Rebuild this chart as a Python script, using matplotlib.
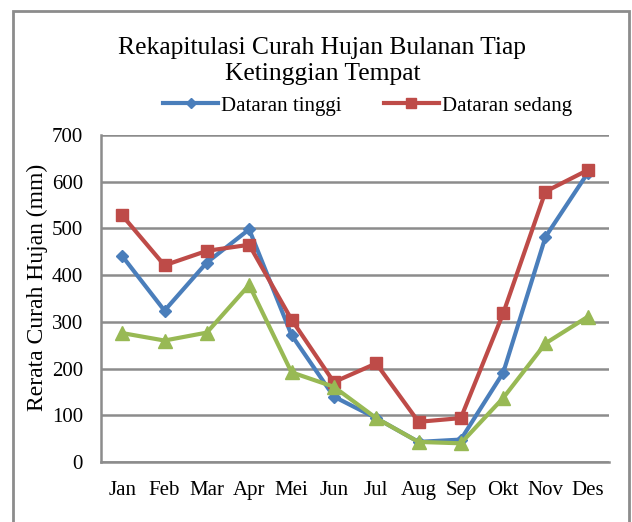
import matplotlib.pyplot as plt
import matplotlib.patches as patches

bulan = ['Jan', 'Feb', 'Mar', 'Apr', 'Mei', 'Jun', 'Jul', 'Aug', 'Sep', 'Okt', 'Nov', 'Des']
dataran_tinggi = [441, 324, 427, 498, 272, 140, 94, 43, 48, 191, 482, 619]
dataran_sedang = [528, 421, 452, 465, 305, 171, 211, 86, 94, 318, 579, 625]
dataran_rendah = [276, 260, 277, 379, 192, 161, 94, 43, 40, 137, 254, 311]
y_ticks = [0, 100, 200, 300, 400, 500, 600, 700]

plt.rcParams['font.family'] = ['Liberation Serif', 'DejaVu Serif']

fig = plt.figure(figsize=(6.32, 5.22), dpi=100)
ax = fig.add_axes([101 / 632, 1 - 462 / 522, 508 / 632, 327 / 522])

# bingkai luar chart
fig.patches.append(patches.Rectangle((13 / 632, -0.05), 616 / 632, 1 - 11 / 522 + 0.05,
                                     transform=fig.transFigure, fill=False,
                                     edgecolor='#8c8c8c', linewidth=2))

x = list(range(len(bulan)))
ax.plot(x, dataran_tinggi, color='#4a7ebb', linewidth=3, marker='D', markersize=6.5,
        label='Dataran tinggi')
ax.plot(x, dataran_sedang, color='#be4b48', linewidth=3, marker='s', markersize=8.5,
        label='Dataran sedang')
ax.plot(x, dataran_rendah, color='#98b954', linewidth=3, marker='^', markersize=9.5,
        label='_Dataran rendah')

ax.set_xlim(-0.5, len(bulan) - 0.5)
ax.set_ylim(0, 700)
ax.set_yticks(y_ticks)
ax.set_xticks(x)
ax.set_xticklabels(bulan)
ax.tick_params(axis='both', length=0, labelsize=15, colors='black')
ax.tick_params(axis='x', pad=14)
ax.tick_params(axis='y', pad=13)
ax.yaxis.grid(True, color='#8c8c8c', linewidth=1.8)
ax.set_axisbelow(True)
for s in ['top', 'right']:
    ax.spines[s].set_visible(False)
for s in ['left', 'bottom']:
    ax.spines[s].set_color('#8c8c8c')
    ax.spines[s].set_linewidth(1.8)

ax.set_ylabel('Rerata Curah Hujan (mm)', fontsize=17)
ax.yaxis.set_label_coords(-0.104, 0.535)

fig.text(0.51, 1 - 61 / 522, 'Rekapitulasi Curah Hujan Bulanan Tiap\nKetinggian Tempat',
         ha='center', va='center', fontsize=18.4, linespacing=1.2)

ax.legend(loc='center', bbox_to_anchor=(367.5 / 632, 1 - 106 / 522), bbox_transform=fig.transFigure,
          ncol=2, frameon=False, fontsize=15, handlelength=2.65, handletextpad=0.15,
          columnspacing=2.0, borderpad=0, markerscale=0.85)

plt.savefig('out.png', dpi=100)
